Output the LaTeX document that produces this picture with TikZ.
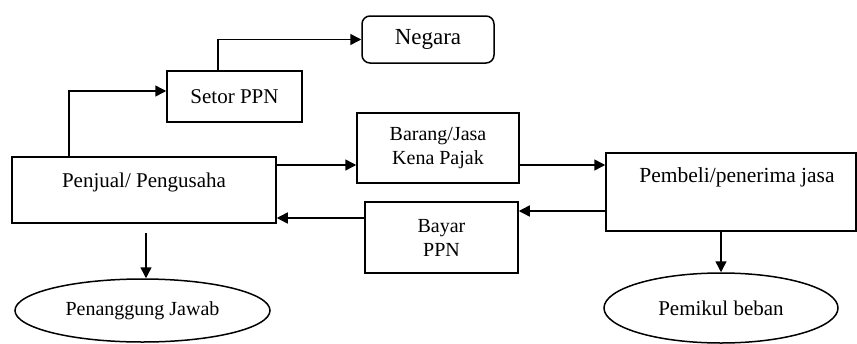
\documentclass[tikz,border=0pt]{standalone}
\usepackage{fontspec}
\setmainfont{Liberation Serif}
\usetikzlibrary{shapes.geometric,arrows.meta}
\begin{document}
\begin{tikzpicture}[x=1pt,y=-1pt,
  box/.style={draw,line width=1.5pt,rectangle,inner sep=0pt},
  oval/.style={draw,line width=1.5pt,ellipse,inner sep=0pt},
  txt/.style={inner sep=0pt,align=center,font=\fontsize{20}{24}\selectfont},
  arr/.style={line width=1.5pt,-{Triangle[length=11pt,width=11pt]}}]
\useasboundingbox (0,0) rectangle (857,343);
% nodes
\node[box,rounded corners=8pt,minimum width=132pt,minimum height=47pt,font=\fontsize{23}{27}\selectfont] (negara) at (428,39.5) {Negara};
\node[box,minimum width=135pt,minimum height=51pt,font=\fontsize{21}{25}\selectfont] (setor) at (234.5,96.5) {Setor PPN};
\node[box,minimum width=264pt,minimum height=66pt] (penjual) at (144,190) {};
\node[txt,font=\fontsize{21}{25}\selectfont] (penjualtxt) at (144,182) {Penjual/ Pengusaha};
\node[box,minimum width=162pt,minimum height=70pt,txt] (barang) at (438,148) {Barang/Jasa\\Kena Pajak};
\node[box,minimum width=153pt,minimum height=71pt,txt] (bayar) at (441.5,237.5) {Bayar\\PPN};
\node[box,minimum width=250pt,minimum height=78pt] (pembeli) at (731,192) {};
\node[txt,font=\fontsize{21.5}{25}\selectfont] (pembelitxt) at (737,177) {Pembeli/penerima jasa};
\node[oval,minimum width=255pt,minimum height=63pt,txt] (pj) at (142.5,310.5) {Penanggung Jawab};
\node[oval,minimum width=234pt,minimum height=70pt,txt,font=\fontsize{21}{25}\selectfont] (pk) at (721,308) {Pemikul beban};
% connectors
\draw[arr] ([xshift=-16.5pt]setor.north) |- (negara.west);
\draw[arr] ([xshift=-75pt]penjual.north) |- ([yshift=5.5pt]setor.west);
\draw[arr] ([yshift=25pt]penjual.east) -- ([yshift=25pt]penjual.east -| barang.west);
\draw[arr] ([yshift=25pt]penjual.east -| barang.east) -- ([yshift=25pt]penjual.east -| pembeli.west);
\draw[arr] ([yshift=-19pt]pembeli.west) -- ([yshift=-19pt]pembeli.west -| bayar.east);
\draw[arr] ([yshift=-28pt]penjual.east -| bayar.west) -- ([yshift=-28pt]penjual.east);
\coordinate (p1) at (146,233);
\draw[arr] (p1) -- (p1 |- pj.north);
\draw[arr] (pembeli.south -| pk.north) -- (pk.north);
\end{tikzpicture}
\end{document}
